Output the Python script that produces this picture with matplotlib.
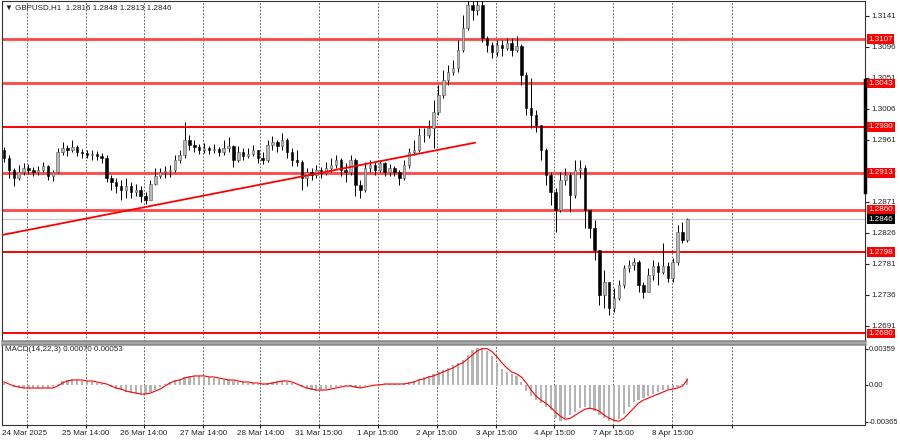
import matplotlib
matplotlib.use('Agg')
import matplotlib.pyplot as plt
import matplotlib.transforms as mtransforms

# GBPUSD H1, one candle here = 2 hours of the original chart
first_open = 1.2946
close = [1.2935, 1.2917, 1.2906, 1.2915, 1.2920, 1.2917, 1.2915, 1.2917, 1.2923, 1.2909,
         1.2915, 1.2943, 1.2949, 1.2946, 1.2951, 1.2943, 1.2942, 1.2939, 1.2941, 1.2938,
         1.2935, 1.2906, 1.2900, 1.2894, 1.2888, 1.2894, 1.2885, 1.2888, 1.2880, 1.2874,
         1.2897, 1.2909, 1.2915, 1.2916, 1.2917, 1.2932, 1.2939, 1.2961, 1.2954, 1.2951,
         1.2946, 1.2949, 1.2946, 1.2948, 1.2943, 1.2949, 1.2952, 1.2932, 1.2943, 1.2938,
         1.2941, 1.2946, 1.2935, 1.2932, 1.2954, 1.2958, 1.2952, 1.2961, 1.2943, 1.2932,
         1.2929, 1.2906, 1.2915, 1.2910, 1.2917, 1.2913, 1.2920, 1.2925, 1.2932, 1.2917,
         1.2915, 1.2932, 1.2896, 1.2888, 1.2920, 1.2925, 1.2917, 1.2928, 1.2915, 1.2920,
         1.2915, 1.2906, 1.2925, 1.2943, 1.2946, 1.2968, 1.2968, 1.2978, 1.3002, 1.3026,
         1.3048, 1.3060, 1.3066, 1.3092, 1.3124, 1.3157, 1.3150, 1.3157, 1.3109, 1.3099,
         1.3089, 1.3099, 1.3094, 1.3102, 1.3092, 1.3097, 1.3055, 1.3007, 1.2997, 1.2983,
         1.2946, 1.2910, 1.2885, 1.2859, 1.2903, 1.2910, 1.2881, 1.2917, 1.2920, 1.2859,
         1.2833, 1.2801, 1.2736, 1.2755, 1.2717, 1.2731, 1.2751, 1.2775, 1.2779, 1.2784,
         1.2751, 1.2740, 1.2765, 1.2778, 1.2769, 1.2778, 1.2761, 1.2784, 1.2827, 1.2816,
         1.2846]
high = [1.2951, 1.2939, 1.2920, 1.2925, 1.2928, 1.2926, 1.2922, 1.2923, 1.2929, 1.2925,
        1.2917, 1.2949, 1.2958, 1.2954, 1.2961, 1.2954, 1.2948, 1.2946, 1.2946, 1.2945,
        1.2942, 1.2939, 1.2910, 1.2906, 1.2903, 1.2906, 1.2900, 1.2897, 1.2894, 1.2885,
        1.2903, 1.2920, 1.2920, 1.2923, 1.2925, 1.2939, 1.2946, 1.2987, 1.2968, 1.2961,
        1.2955, 1.2957, 1.2952, 1.2955, 1.2951, 1.2961, 1.2965, 1.2954, 1.2952, 1.2949,
        1.2949, 1.2954, 1.2946, 1.2943, 1.2961, 1.2967, 1.2961, 1.2971, 1.2964, 1.2949,
        1.2946, 1.2932, 1.2920, 1.2920, 1.2925, 1.2922, 1.2929, 1.2935, 1.2939, 1.2935,
        1.2928, 1.2939, 1.2935, 1.2903, 1.2929, 1.2932, 1.2929, 1.2932, 1.2929, 1.2926,
        1.2923, 1.2917, 1.2932, 1.2949, 1.2961, 1.2978, 1.2978, 1.2990, 1.3019, 1.3041,
        1.3063, 1.3070, 1.3077, 1.3106, 1.3142, 1.3179, 1.3172, 1.3179, 1.3164, 1.3112,
        1.3103, 1.3106, 1.3106, 1.3109, 1.3109, 1.3112, 1.3100, 1.3060, 1.3051, 1.3004,
        1.2968, 1.2949, 1.2915, 1.2891, 1.2915, 1.2920, 1.2915, 1.2932, 1.2932, 1.2925,
        1.2848, 1.2845, 1.2801, 1.2772, 1.2751, 1.2746, 1.2758, 1.2779, 1.2787, 1.2790,
        1.2787, 1.2755, 1.2775, 1.2787, 1.2784, 1.2812, 1.2784, 1.2790, 1.2837, 1.2842,
        1.2848]
low = [1.2929, 1.2906, 1.2894, 1.2903, 1.2910, 1.2912, 1.2909, 1.2910, 1.2915, 1.2903,
       1.2901, 1.2913, 1.2939, 1.2938, 1.2943, 1.2938, 1.2935, 1.2935, 1.2932, 1.2932,
       1.2928, 1.2900, 1.2888, 1.2884, 1.2874, 1.2877, 1.2877, 1.2880, 1.2871, 1.2868,
       1.2874, 1.2896, 1.2906, 1.2906, 1.2907, 1.2915, 1.2928, 1.2935, 1.2946, 1.2943,
       1.2941, 1.2942, 1.2941, 1.2942, 1.2938, 1.2939, 1.2943, 1.2922, 1.2929, 1.2932,
       1.2935, 1.2938, 1.2928, 1.2926, 1.2929, 1.2946, 1.2943, 1.2946, 1.2935, 1.2923,
       1.2923, 1.2888, 1.2894, 1.2903, 1.2906, 1.2906, 1.2910, 1.2915, 1.2920, 1.2909,
       1.2900, 1.2910, 1.2880, 1.2877, 1.2885, 1.2915, 1.2910, 1.2915, 1.2909, 1.2909,
       1.2909, 1.2896, 1.2903, 1.2920, 1.2939, 1.2943, 1.2958, 1.2964, 1.2949, 1.2997,
       1.3022, 1.3041, 1.3055, 1.3060, 1.3089, 1.3121, 1.3135, 1.3142, 1.3103, 1.3089,
       1.3080, 1.3083, 1.3083, 1.3092, 1.3083, 1.3089, 1.3041, 1.2997, 1.2978, 1.2972,
       1.2932, 1.2896, 1.2867, 1.2827, 1.2856, 1.2896, 1.2856, 1.2877, 1.2906, 1.2833,
       1.2819, 1.2787, 1.2721, 1.2717, 1.2707, 1.2711, 1.2729, 1.2746, 1.2769, 1.2772,
       1.2740, 1.2731, 1.2743, 1.2758, 1.2751, 1.2766, 1.2755, 1.2755, 1.2779, 1.2812,
       1.2813]

macd = [0.0002, 0.0000, -0.0002, -0.0003, -0.0003, -0.0003, -0.0003, -0.0003, -0.0003, -0.0003,
        -0.0002, 0.0001, 0.0004, 0.0005, 0.0006, 0.0005, 0.0004, 0.0004, 0.0003, 0.0002,
        0.0001, 0.0000, -0.0002, -0.0004, -0.0005, -0.0007, -0.0008, -0.0009, -0.0009, -0.0009,
        -0.0007, -0.0005, -0.0002, 0.0001, 0.0003, 0.0005, 0.0006, 0.0008, 0.0009, 0.0009,
        0.0009, 0.0008, 0.0008, 0.0007, 0.0006, 0.0005, 0.0005, 0.0004, 0.0003, 0.0003,
        0.0002, 0.0002, 0.0001, 0.0001, 0.0002, 0.0003, 0.0004, 0.0004, 0.0003, 0.0002,
        0.0000, -0.0002, -0.0004, -0.0005, -0.0006, -0.0005, -0.0004, -0.0003, -0.0002, -0.0001,
        -0.0001, -0.0001, -0.0003, -0.0003, -0.0001, 0.0000, 0.0000, 0.0001, 0.0001, 0.0001,
        0.0001, 0.0001, 0.0002, 0.0003, 0.0004, 0.0006, 0.0008, 0.0009, 0.0011, 0.0013,
        0.0015, 0.0017, 0.0020, 0.0022, 0.0025, 0.0030, 0.0035, 0.0037, 0.0037, 0.0034,
        0.0029, 0.0022, 0.0016, 0.0013, 0.0011, 0.0009, 0.0003, -0.0006, -0.0011, -0.0015,
        -0.0018, -0.0022, -0.0025, -0.0033, -0.0036, -0.0033, -0.0030, -0.0027, -0.0023, -0.0022,
        -0.0023, -0.0026, -0.0030, -0.0033, -0.0036, -0.0037, -0.0034, -0.0029, -0.0022, -0.0017,
        -0.0015, -0.0013, -0.0011, -0.0009, -0.0007, -0.0005, -0.0004, -0.0003, -0.0002, 0.0001,
        0.0007]
signal = [0.0003, 0.0001, -0.0001, -0.0002, -0.0003, -0.0003, -0.0003, -0.0003, -0.0003, -0.0003,
          -0.0003, -0.0001, 0.0002, 0.0004, 0.0005, 0.0005, 0.0005, 0.0004, 0.0004, 0.0003,
          0.0002, 0.0001, -0.0001, -0.0003, -0.0004, -0.0006, -0.0007, -0.0008, -0.0009, -0.0009,
          -0.0008, -0.0006, -0.0004, -0.0001, 0.0002, 0.0004, 0.0005, 0.0007, 0.0008, 0.0009,
          0.0009, 0.0009, 0.0008, 0.0008, 0.0007, 0.0006, 0.0005, 0.0005, 0.0004, 0.0003,
          0.0003, 0.0002, 0.0002, 0.0001, 0.0001, 0.0002, 0.0003, 0.0004, 0.0004, 0.0003,
          0.0001, -0.0001, -0.0003, -0.0004, -0.0005, -0.0005, -0.0005, -0.0004, -0.0003, -0.0002,
          -0.0001, -0.0001, -0.0002, -0.0003, -0.0002, -0.0001, 0.0000, 0.0000, 0.0001, 0.0001,
          0.0001, 0.0001, 0.0001, 0.0002, 0.0003, 0.0005, 0.0006, 0.0008, 0.0009, 0.0011,
          0.0013, 0.0015, 0.0017, 0.0020, 0.0022, 0.0026, 0.0030, 0.0034, 0.0036, 0.0036,
          0.0033, 0.0028, 0.0022, 0.0017, 0.0013, 0.0011, 0.0008, 0.0002, -0.0005, -0.0011,
          -0.0015, -0.0018, -0.0022, -0.0027, -0.0031, -0.0034, -0.0033, -0.0030, -0.0027, -0.0024,
          -0.0023, -0.0024, -0.0026, -0.0030, -0.0033, -0.0035, -0.0036, -0.0033, -0.0028, -0.0023,
          -0.0018, -0.0015, -0.0013, -0.0011, -0.0009, -0.0007, -0.0005, -0.0004, -0.0003, -0.0001,
          0.0005]

levels = [1.3107, 1.3043, 1.2980, 1.2913, 1.2860, 1.2798, 1.2680]
strong_levels = [1.3107, 1.3043, 1.2913, 1.2860]
current_price = 1.2846
trend_x = [-0.4, 96.5]
trend_y = [1.2823, 1.2957]

price_ticks = [1.3141, 1.3096, 1.3051, 1.3006, 1.2961, 1.2916, 1.2871, 1.2826, 1.2781, 1.2736, 1.2691]
macd_ticks = [0.00359, 0.0, -0.00365]
macd_tick_labels = ['0.00359', '0.00', '-0.00365']
grid_pos = [4.7, 16.8, 28.7, 40.8, 52.5, 64.5, 76.6, 88.7, 100.8, 112.7, 124.8, 136.9, 149.2]
date_labels = ['', '25 Mar 14:00', '26 Mar 14:00', '27 Mar 14:00', '28 Mar 14:00', '31 Mar 15:00',
               '1 Apr 15:00', '2 Apr 15:00', '3 Apr 15:00', '4 Apr 15:00', '7 Apr 15:00',
               '8 Apr 15:00', '']

plt.rcParams['font.family'] = ['Liberation Sans', 'DejaVu Sans']
fs = 5.8

fig = plt.figure(figsize=(9, 4.41), dpi=100)
W, H = 900, 441
ax = fig.add_axes([2 / W, 1 - 341 / H, 863 / W, 340 / H])
ax2 = fig.add_axes([2 / W, 1 - 425 / H, 863 / W, 81 / H])

idx = list(range(len(close)))
opens = [first_open] + close[:-1]

# candles
ax.vlines(idx, low, high, color='black', lw=0.7, zorder=3)
for i in idx:
    o, c = opens[i], close[i]
    bottom = min(o, c)
    h = max(abs(c - o), 0.00003)
    if c >= o:
        ax.bar(i, h, bottom=bottom, width=0.5, color='#b8b8b8', edgecolor='#555555', lw=0.4, zorder=4)
    else:
        ax.bar(i, h, bottom=bottom, width=0.5, color='black', edgecolor='black', lw=0.4, zorder=4)

for lvl in levels:
    if lvl in strong_levels:
        ax.axhline(lvl, color='#ff4545', lw=2.0, zorder=2)
    else:
        ax.axhline(lvl, color='red', lw=1.4, zorder=2)
ax.axhline(current_price, color='#c8c8c8', lw=0.9, zorder=1)
ax.plot(trend_x, trend_y, color='red', lw=1.3, zorder=5)

ax.set_xlim(-0.41, 176.4)
ax.set_ylim(1.26691, 1.31627)
ax.set_xticks(grid_pos)
ax.set_xticklabels([])
ax.tick_params(axis='x', length=0)
ax.grid(axis='x', color='#444444', lw=0.6, linestyle=(0, (2, 2)))
ax.yaxis.tick_right()
ax.set_yticks(price_ticks)
ax.set_yticklabels([f'{t:.4f}' for t in price_ticks])
ax.tick_params(axis='y', direction='out', length=3, pad=1.5, labelsize=fs, colors='#222222')
for s in ax.spines.values():
    s.set_color('#333333')
    s.set_linewidth(0.8)
ax.spines['bottom'].set_color('#8a8a8a')
ax.spines['bottom'].set_linewidth(1.8)

tr = mtransforms.blended_transform_factory(ax.transAxes, ax.transData)
ax.plot([1.0, 1.0], [1.3048, 1.2886], transform=tr, color='black', lw=2.5, clip_on=False, zorder=6)
for lvl in levels:
    ax.text(1.004, lvl, f'{lvl:.4f}', transform=tr, ha='left', va='center', color='white', fontsize=fs,
            bbox=dict(boxstyle='square,pad=0.18', fc='red', ec='none'), clip_on=False, zorder=10)
ax.text(1.004, current_price, f'{current_price:.4f}', transform=tr, ha='left', va='center', color='white',
        fontsize=fs, bbox=dict(boxstyle='square,pad=0.18', fc='black', ec='none'), clip_on=False, zorder=10)

ax.text(0.004, 0.982, '\u25bc GBPUSD,H1  1.2816 1.2848 1.2813 1.2846', transform=ax.transAxes,
        ha='left', va='center', fontsize=fs, color='#222222')

# MACD panel
ax2.bar(idx, macd, width=0.45, color='#b4b4b4', zorder=2)
ax2.plot(idx, signal, color='red', lw=0.8, zorder=3)
ax2.set_xlim(-0.41, 176.4)
ax2.set_ylim(-0.003968, 0.004067)
ax2.set_xticks(grid_pos)
ax2.set_xticklabels(date_labels)
ax2.tick_params(axis='x', length=2, pad=1.5, labelsize=fs, colors='#222222')
ax2.grid(axis='x', color='#444444', lw=0.6, linestyle=(0, (2, 2)))
ax2.yaxis.tick_right()
ax2.set_yticks(macd_ticks)
ax2.set_yticklabels(macd_tick_labels)
ax2.tick_params(axis='y', direction='out', length=2, pad=0.8, labelsize=5.4, colors='#222222')
for s in ax2.spines.values():
    s.set_color('#333333')
    s.set_linewidth(0.8)
ax2.spines['top'].set_color('#8a8a8a')
ax2.spines['top'].set_linewidth(1.8)
ax2.text(0.004, 0.93, 'MACD(14,22,3) 0.00070 0.00053', transform=ax2.transAxes,
         ha='left', va='center', fontsize=fs, color='#222222')
ax2.text(0.0, -0.1, '24 Mar 2025', transform=ax2.transAxes, ha='left', va='center',
         fontsize=fs, color='#222222')

fig.savefig('out.png', dpi=100, facecolor='white')
